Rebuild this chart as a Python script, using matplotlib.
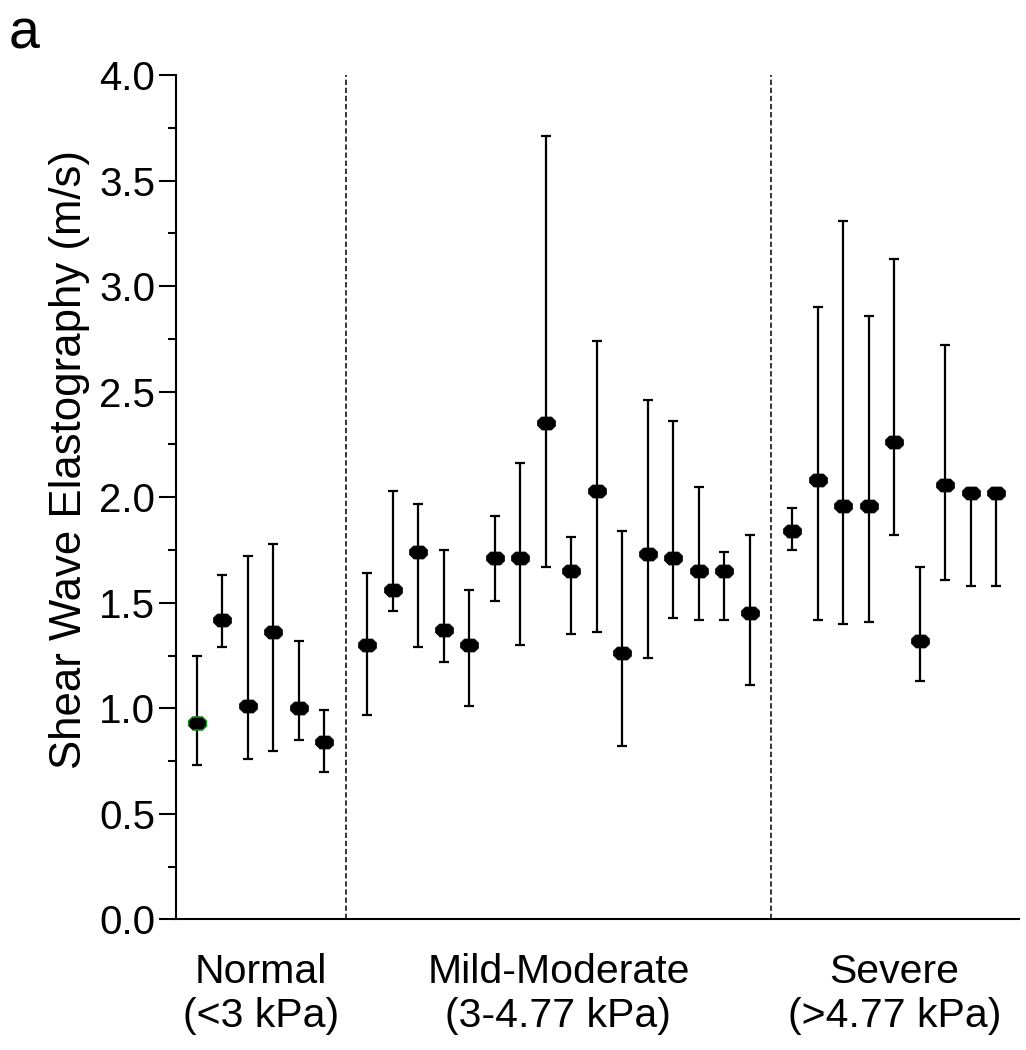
"""
    Shear wave elastography by fibrosis group
"""

import numpy as np
import matplotlib
matplotlib.use("Agg")
import matplotlib.pyplot as plt
from matplotlib import font_manager

names = [f.name for f in font_manager.fontManager.ttflist]
narrow = 'Liberation Sans Narrow' if 'Liberation Sans Narrow' in names else 'Liberation Sans'
plt.rcParams['font.family'] = ['Liberation Sans', 'DejaVu Sans']

groups = ["Normal\n(<3 kPa)", "Mild-Moderate\n(3-4.77 kPa)", "Severe\n(>4.77 kPa)"]

normal_mean = [0.93, 1.42, 1.01, 1.36, 1.00, 0.84]
normal_lo = [0.73, 1.29, 0.76, 0.80, 0.85, 0.70]
normal_hi = [1.25, 1.63, 1.72, 1.78, 1.32, 0.99]

mild_mean = [1.30, 1.56, 1.74, 1.37, 1.30, 1.71, 1.71, 2.35,
             1.65, 2.03, 1.26, 1.73, 1.71, 1.65, 1.65, 1.45]
mild_lo = [0.97, 1.46, 1.29, 1.22, 1.01, 1.51, 1.30, 1.67,
           1.35, 1.36, 0.82, 1.24, 1.43, 1.42, 1.42, 1.11]
mild_hi = [1.64, 2.03, 1.97, 1.75, 1.56, 1.91, 2.16, 3.71,
           1.81, 2.74, 1.84, 2.46, 2.36, 2.05, 1.74, 1.82]

severe_mean = [1.84, 2.08, 1.96, 1.96, 2.26, 1.32, 2.06, 2.02, 2.02]
severe_lo = [1.75, 1.42, 1.40, 1.41, 1.82, 1.13, 1.61, 1.58, 1.58]
severe_hi = [1.95, 2.90, 3.31, 2.86, 3.13, 1.67, 2.72, 2.02, 2.02]

means = [normal_mean, mild_mean, severe_mean]
lows = [normal_lo, mild_lo, severe_lo]
highs = [normal_hi, mild_hi, severe_hi]

gap = 0.68  # extra space between groups

fig = plt.figure(figsize=(10.26, 10.5), dpi=100)
ax = fig.add_axes([0.1715, 0.1243, 0.8216, 0.8043])

hexa = [(-1, -0.28), (-1, 0.28), (-0.55, 0.72), (0.55, 0.72),
        (1, 0.28), (1, -0.28), (0.55, -0.72), (-0.55, -0.72)]

start = 0
centers = []
bounds = []
for g in range(3):
    m = np.array(means[g])
    x = start + np.arange(len(m)) + g * gap
    err = [m - np.array(lows[g]), np.array(highs[g]) - m]
    ax.errorbar(x, m, yerr=err, fmt='none', ecolor='black', elinewidth=1.6,
                capsize=3.7, capthick=1.6, zorder=2)
    ax.plot(x, m, linestyle='none', marker=hexa, ms=13, color='black',
            mec='black', mew=0.5, zorder=3)
    if g == 0:
        ax.plot(x[0], m[0], linestyle='none', marker=hexa, ms=13,
                color='black', mec='#1a9a1a', mew=1.0, zorder=4)
    centers.append(x.mean())
    bounds.append((x[0], x[-1]))
    start += len(m)

for g in range(2):
    xd = (bounds[g][1] + bounds[g + 1][0]) / 2
    ax.axvline(xd, color='black', lw=1.1, linestyle=(0, (3.5, 1.8)), zorder=1)

ax.set_xlim(-0.82, 32.24)
ax.set_ylim(0, 4.0)
ax.set_yticks(np.arange(0, 4.01, 0.5))
ax.set_yticks(np.arange(0.25, 4.0, 0.5), minor=True)
ax.set_yticklabels([f"{v:.1f}" for v in np.arange(0, 4.01, 0.5)], fontsize=29)
ax.tick_params(axis='y', which='major', length=12, width=1.5, pad=3)
ax.tick_params(axis='y', which='minor', length=6, width=1.5)

ax.set_xticks(centers)
ax.set_xticklabels(groups, fontsize=29.5, family=[narrow, 'DejaVu Sans'],
                   linespacing=1.2)
ax.tick_params(axis='x', length=0, pad=24)

ax.set_ylabel("Shear Wave Elastography (m/s)", fontsize=31.5)
ax.yaxis.set_label_coords(-0.102, 0.545)

for s in ['top', 'right']:
    ax.spines[s].set_visible(False)
for s in ['left', 'bottom']:
    ax.spines[s].set_linewidth(1.5)

fig.text(0.008, 0.992, "a", fontsize=40, va='top', ha='left')

fig.savefig('out.png', dpi=100)
plt.close(fig)
